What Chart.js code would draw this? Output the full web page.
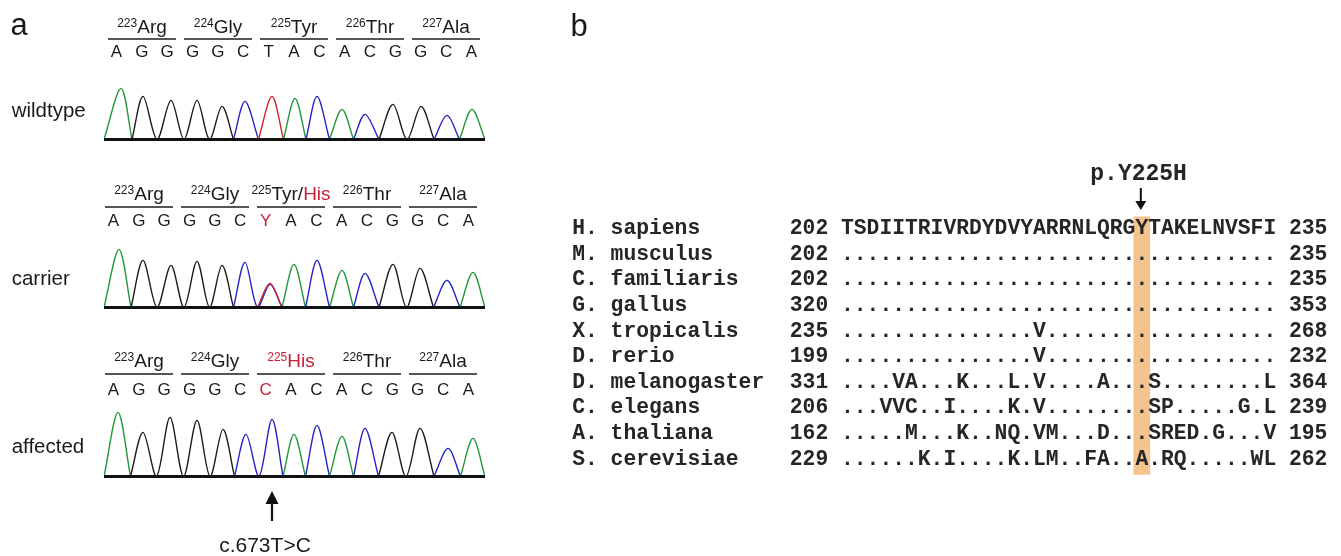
<!DOCTYPE html>
<html>
<head>
<meta charset="utf-8">
<script src="https://cdn.jsdelivr.net/npm/chart.js@4.4.1/dist/chart.umd.min.js"></script>
<style>
html, body { margin: 0; padding: 0; background: #fff; }
body { width: 1341px; height: 556px; position: relative; overflow: hidden;
       font-family: "Liberation Sans", Arial, sans-serif; color: #1a1a1a; }
canvas { position: absolute; }
.txt { position: absolute; white-space: nowrap; line-height: 1; }
.sup { font-size: 12px; position: relative; top: -6px; }
.mut { color: #c8203a; }
.rule { position: absolute; height: 2px; background: #555; }
svg { position: absolute; left: 0; top: 0; }
</style>
</head>
<body>
<canvas id="wtChart" width="381" height="72"></canvas>
<canvas id="carChart" width="381" height="72"></canvas>
<canvas id="affChart" width="381" height="72"></canvas>
<canvas id="alignChart" width="781" height="350" style="left:560px;top:150px"></canvas>
<svg width="1341" height="556">
  <line x1="272" y1="521" x2="272" y2="500" stroke="#111" stroke-width="2.2"/>
  <polygon points="265.5,504 278.5,504 272,491" fill="#111"/>
</svg>
<script>
// ---- panel a: sequencing traces ----
const refBases = ['A','G','G','G','G','C','T','A','C','A','C','G','G','C','A'];
const codonNames = ['Arg','Gly','Tyr','Thr','Ala'];
const codonNums = [223, 224, 225, 226, 227];

// peak positions (trace scan units) and peak heights
const wildtypePos = [17, 39, 67, 93, 118, 141, 168, 191, 213, 238, 261, 289, 317, 343, 368];
const wildtypeHeight = [51, 43, 39, 39, 33, 38, 43, 41, 43, 30, 25, 35, 33, 24, 30];
const wildtypeCalls = ['A','G','G','G','G','C','T','A','C','A','C','G','G','C','A'];

const carrierPos = [15, 39, 67, 93, 118, 141, 166, 190, 213, 238, 261, 289, 316, 343, 369];
const carrierHeight = [58, 47, 42, 46, 42, 45, 23, 43, 47, 37, 34, 43, 39, 27, 35];
const carrierCalls = ['A','G','G','G','G','C','C','A','C','A','C','G','G','C','A'];
// second (wildtype) peak under the het position
const carrierMinorCalls = [null, null, null, null, null, null, 'T', null, null, null, null, null, null, null, null];
const carrierMinorHeight = [0, 0, 0, 0, 0, 0, 24, 0, 0, 0, 0, 0, 0, 0, 0];

const affectedPos = [14, 39, 66, 93, 119, 142, 168, 190, 213, 238, 261, 288, 316, 344, 369];
const affectedHeight = [64, 44, 59, 56, 47, 42, 57, 42, 51, 40, 48, 44, 48, 28, 38];
const affectedCalls = ['A','G','G','G','G','C','C','A','C','A','C','G','G','C','A'];

const traceEnd = 381;
const yMin = -1.6, yMax = 70.4;
const baseColor = { A: '#23973b', C: '#2424c6', G: '#1c1c1c', T: '#d0222c' };

// one trace per base; peaks of the base go down to the baseline at the
// midpoint to the neighbouring peak, runs of the same base stay joined
function tracePoints(pos, calls, heights, base, minorCalls, minorHeights) {
    let pts = [];
    for (let i = 0; i < pos.length; i++) {
        let h = calls[i] == base ? heights[i] : 0;
        if (minorCalls && minorCalls[i] == base) h += minorHeights[i];
        if (h <= 0) continue;
        let left = i > 0 ? (pos[i - 1] + pos[i]) / 2 : 0;
        let right = i < pos.length - 1 ? (pos[i] + pos[i + 1]) / 2 : traceEnd;
        let last = pts[pts.length - 1];
        if (!last || last.x !== left) {
            if (last) pts.push({ x: left, y: null });
            pts.push({ x: left, y: 0 });
        }
        pts.push({ x: pos[i], y: h });
        pts.push({ x: right, y: 0 });
    }
    return pts;
}

function drawTrace(id, baseline, pos, calls, heights, minorCalls, minorHeights) {
    let canvas = document.getElementById(id);
    canvas.style.left = '104px';
    canvas.style.top = (baseline - yMax) + 'px';
    let datasets = [{
        data: [{ x: 0, y: 0 }, { x: traceEnd, y: 0 }],
        borderColor: '#111',
        borderWidth: 3,
        order: 0,
        clip: false
    }];
    ['T', 'C', 'G', 'A'].forEach(function (b) {
        datasets.push({
            data: tracePoints(pos, calls, heights, b, minorCalls, minorHeights),
            borderColor: baseColor[b],
            borderWidth: 1.4,
            tension: 0.32,
            order: 1,
            clip: 0
        });
    });
    return new Chart(canvas, {
        type: 'line',
        data: { datasets: datasets },
        options: {
            responsive: false,
            animation: false,
            events: [],
            layout: { padding: 0 },
            elements: { point: { radius: 0 } },
            plugins: { legend: { display: false }, tooltip: { enabled: false } },
            scales: {
                x: { type: 'linear', display: false, min: 0, max: traceEnd },
                y: { type: 'linear', display: false, min: yMin, max: yMax }
            }
        }
    });
}

drawTrace('wtChart', 139.5, wildtypePos, wildtypeCalls, wildtypeHeight);
drawTrace('carChart', 307, carrierPos, carrierCalls, carrierHeight, carrierMinorCalls, carrierMinorHeight);
drawTrace('affChart', 476, affectedPos, affectedCalls, affectedHeight);

// ---- text of panel a ----
function addText(html, x, baseline, size, center) {
    let d = document.createElement('div');
    d.className = 'txt';
    d.innerHTML = html;
    d.style.fontSize = size + 'px';
    d.style.top = (baseline - 0.8465 * size) + 'px';
    d.style.left = x + 'px';
    if (center) d.style.transform = 'translateX(-50%)';
    document.body.appendChild(d);
    return d;
}

function addRule(x, y, w) {
    let d = document.createElement('div');
    d.className = 'rule';
    d.style.left = x + 'px';
    d.style.top = (y - 1) + 'px';
    d.style.width = w + 'px';
    document.body.appendChild(d);
}

function codonHeader(x0, labelBase, ruleY, baseBase, labels, letters) {
    for (let k = 0; k < 5; k++) {
        addText(labels[k], x0 + 34 + 76 * k, labelBase, 19, true);
        addRule(x0 + 76 * k, ruleY, 68);
    }
    for (let i = 0; i < letters.length; i++) {
        addText(letters[i], x0 + 8.5 + 25.35 * i, baseBase, 17, true);
    }
}

let plainLabels = codonNames.map(function (n, k) {
    return '<span class="sup">' + codonNums[k] + '</span>' + n;
});
let carrierLabels = plainLabels.slice();
carrierLabels[2] = '<span class="sup">225</span>Tyr/<span class="mut">His</span>';
let affectedLabels = plainLabels.slice();
affectedLabels[2] = '<span class="mut"><span class="sup">225</span>His</span>';

let carrierLetters = refBases.slice();
carrierLetters[6] = '<span class="mut">Y</span>';
let affectedLetters = refBases.slice();
affectedLetters[6] = '<span class="mut">C</span>';

codonHeader(108, 33.3, 39, 57.3, plainLabels, refBases);
codonHeader(105, 200, 207.3, 226, carrierLabels, carrierLetters);
codonHeader(105, 366.7, 374.3, 395, affectedLabels, affectedLetters);

addText('a', 10.5, 35, 31);
addText('b', 570.5, 36, 31);
addText('wildtype', 11.7, 117.3, 20.5);
addText('carrier', 11.7, 285, 20.5);
addText('affected', 11.7, 453.3, 20.5);
addText('c.673T&gt;C', 265, 551.7, 21, true);

// ---- panel b: alignment ----
const species = ['H. sapiens', 'M. musculus', 'C. familiaris', 'G. gallus', 'X. tropicalis',
    'D. rerio', 'D. melanogaster', 'C. elegans', 'A. thaliana', 'S. cerevisiae'];
const startPos = [202, 202, 202, 320, 235, 199, 331, 206, 162, 229];
const endPos = [235, 235, 235, 353, 268, 232, 364, 239, 195, 262];
const seqs = [
    'TSDIITRIVRDYDVYARRNLQRGYTAKELNVSFI',
    '..................................',
    '..................................',
    '..................................',
    '...............V..................',
    '...............V..................',
    '....VA...K...L.V....A...S........L',
    '...VVC..I....K.V........SP.....G.L',
    '.....M...K..NQ.VM...D...SRED.G...V',
    '......K.I....K.LM..FA..A.RQ.....WL'
];
const mutationPos = 225;
const mutationLabel = 'p.Y225H';
const highlightCol = mutationPos - startPos[0];

const monoFont = '"Liberation Mono", "Courier New", monospace';

const alignmentText = {
    id: 'alignmentText',
    afterDatasetsDraw(chart) {
        const ctx = chart.ctx;
        const x = chart.scales.x;
        const y = chart.scales.y;
        ctx.save();
        ctx.fillStyle = '#262626';
        ctx.font = 'bold 21.33px ' + monoFont;
        ctx.textBaseline = 'alphabetic';
        for (let r = 0; r < species.length; r++) {
            let yb = y.getPixelForValue(r) + 5.7;
            ctx.textAlign = 'left';
            ctx.fillText(species[r], x.getPixelForValue(-21), yb);
            ctx.fillText(String(startPos[r]), x.getPixelForValue(-4), yb);
            ctx.fillText(String(endPos[r]), x.getPixelForValue(seqs[r].length + 1), yb);
            ctx.textAlign = 'center';
            for (let i = 0; i < seqs[r].length; i++) {
                ctx.fillText(seqs[r][i], x.getPixelForValue(i + 0.5), yb);
            }
        }
        // mutation label and arrow
        ctx.font = 'bold 23px ' + monoFont;
        ctx.textAlign = 'center';
        ctx.fillText(mutationLabel, x.getPixelForValue(highlightCol + 0.25), y.getPixelForValue(-2.13) + 6);
        let ax = x.getPixelForValue(highlightCol + 0.5) - 1;
        let top = y.getPixelForValue(-1.57);
        let tip = y.getPixelForValue(-0.71);
        ctx.strokeStyle = '#111';
        ctx.lineWidth = 2;
        ctx.beginPath();
        ctx.moveTo(ax, top);
        ctx.lineTo(ax, tip - 6);
        ctx.stroke();
        ctx.fillStyle = '#111';
        ctx.beginPath();
        ctx.moveTo(ax - 5.5, tip - 9);
        ctx.lineTo(ax + 5.5, tip - 9);
        ctx.lineTo(ax, tip);
        ctx.closePath();
        ctx.fill();
        ctx.restore();
    }
};

new Chart(document.getElementById('alignChart'), {
    type: 'bar',
    data: {
        datasets: [{
            data: [{ x: highlightCol + 0.5, y: [-0.45, species.length - 1 + 0.6] }],
            backgroundColor: '#f5c48e',
            borderWidth: 0,
            barThickness: 16
        }]
    },
    options: {
        responsive: false,
        animation: false,
        events: [],
        layout: { padding: 0 },
        plugins: { legend: { display: false }, tooltip: { enabled: false } },
        scales: {
            x: { type: 'linear', display: false, offset: false, min: -21.953, max: 39.0625 },
            y: { type: 'linear', display: false, reverse: true, min: -3.055, max: 10.601 }
        }
    },
    plugins: [alignmentText]
});
</script>
</body>
</html>
